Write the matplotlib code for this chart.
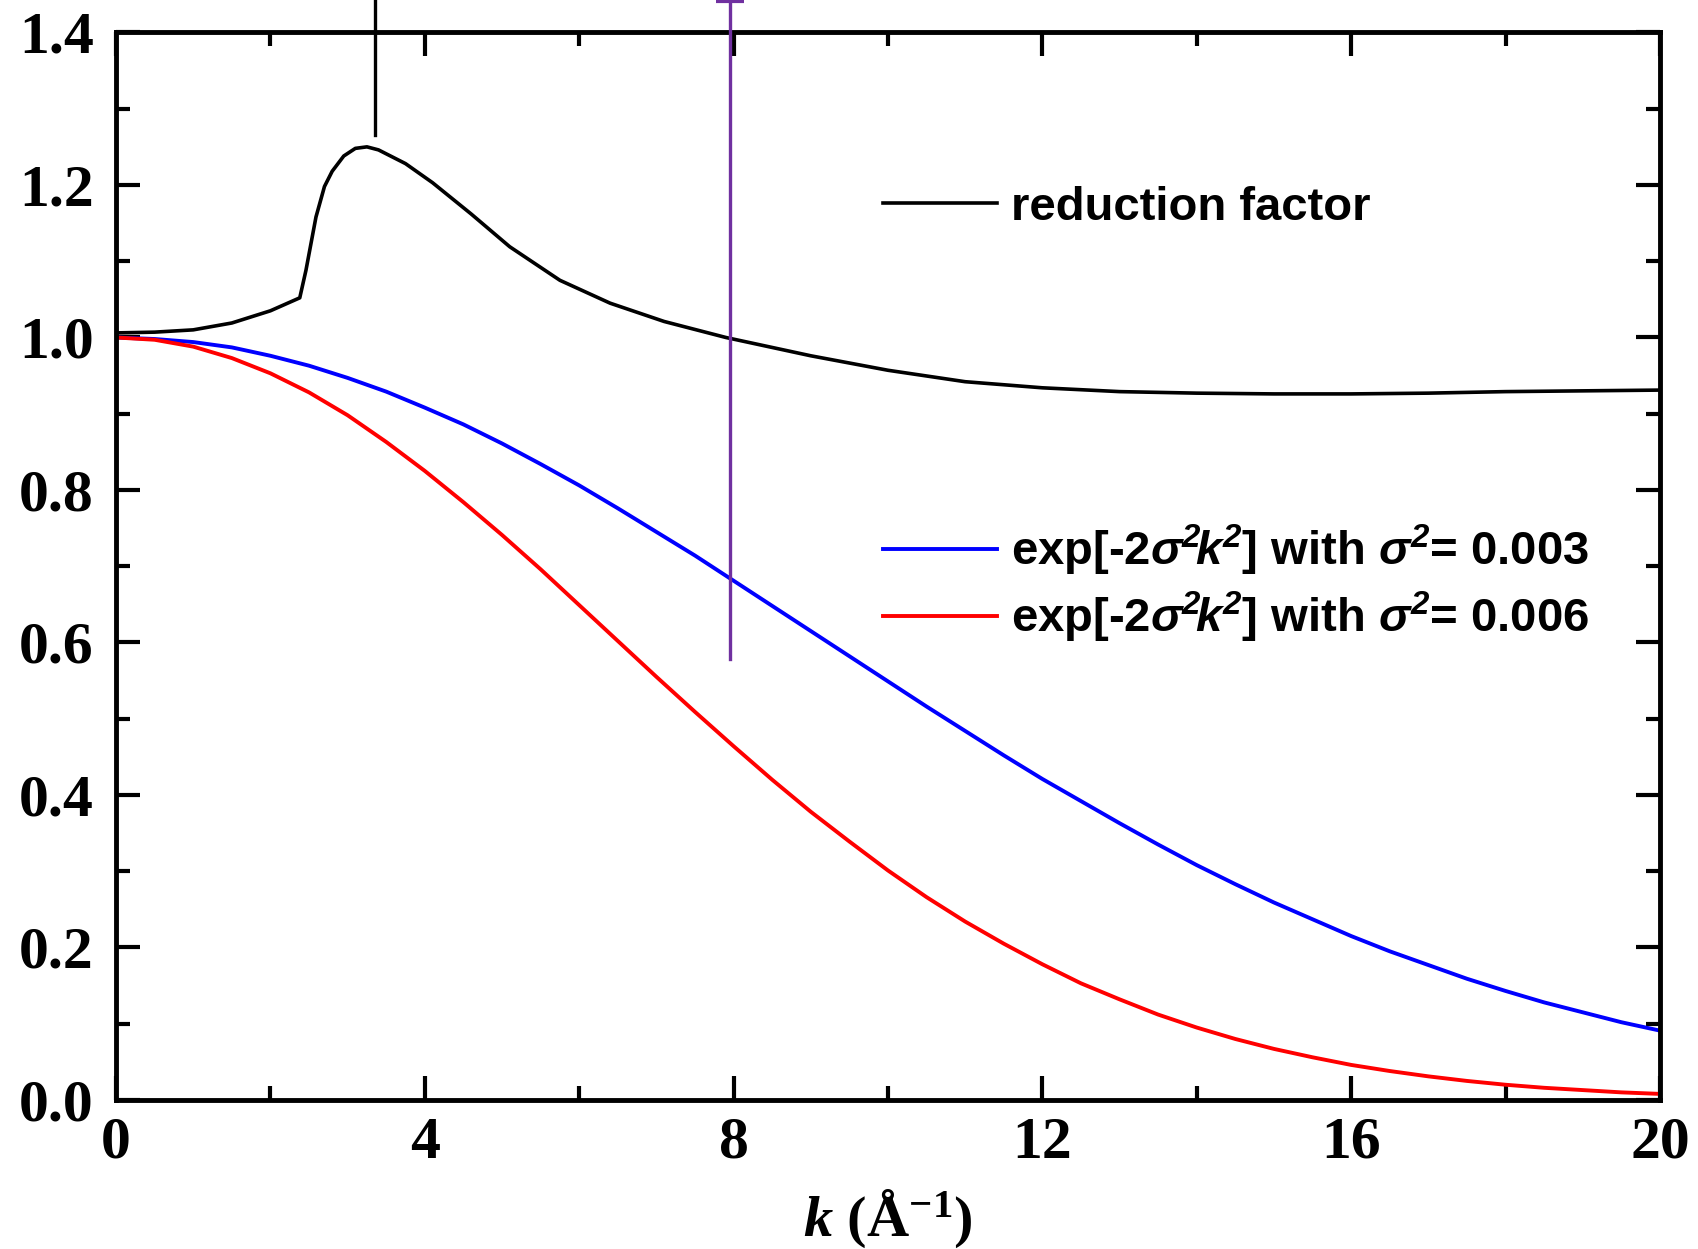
import matplotlib
matplotlib.use("Agg")
import matplotlib.pyplot as plt
import numpy as np

# ---- data ----
k_rf = [0, 0.5, 1.0, 1.5, 2.0, 2.38, 2.46, 2.59, 2.7, 2.8, 2.95, 3.1, 3.25, 3.4,
        3.75, 4.1, 4.6, 5.1, 5.75, 6.4, 7.1, 7.9, 9.0, 10.0, 11.0, 12.0, 13.0,
        14.0, 15.0, 16.0, 17.0, 18.0, 19.0, 20.0]
reduction = [1.006, 1.007, 1.010, 1.019, 1.035, 1.052, 1.088, 1.158, 1.198, 1.218,
             1.238, 1.248, 1.250, 1.246, 1.228, 1.203, 1.162, 1.119, 1.075, 1.045,
             1.021, 1.000, 0.976, 0.957, 0.942, 0.934, 0.929, 0.927, 0.926, 0.926,
             0.927, 0.929, 0.930, 0.931]

k_dw = [0, 0.5, 1, 1.5, 2, 2.5, 3, 3.5, 4, 4.5, 5, 5.5, 6, 6.5, 7, 7.5, 8, 8.5,
        9, 9.5, 10, 10.5, 11, 11.5, 12, 12.5, 13, 13.5, 14, 14.5, 15, 15.5, 16,
        16.5, 17, 17.5, 18, 18.5, 19, 19.5, 20]
dw_003 = [1.000, 0.998, 0.994, 0.987, 0.976, 0.963, 0.947, 0.929, 0.908, 0.886,
          0.861, 0.834, 0.806, 0.776, 0.745, 0.714, 0.681, 0.648, 0.615, 0.582,
          0.549, 0.516, 0.484, 0.452, 0.421, 0.392, 0.363, 0.335, 0.308, 0.283,
          0.259, 0.237, 0.215, 0.195, 0.177, 0.159, 0.143, 0.128, 0.115, 0.102,
          0.091]
dw_006 = [1.000, 0.997, 0.988, 0.973, 0.953, 0.928, 0.898, 0.863, 0.825, 0.784,
          0.741, 0.696, 0.649, 0.602, 0.555, 0.509, 0.464, 0.420, 0.378, 0.339,
          0.301, 0.266, 0.234, 0.205, 0.178, 0.153, 0.132, 0.112, 0.095, 0.080,
          0.067, 0.056, 0.046, 0.038, 0.031, 0.025, 0.020, 0.016, 0.013, 0.010,
          0.008]

# vertical markers (k position, lower end, upper end)
mark_k = [3.35, 7.95]
mark_lo = [1.265, 0.578]
mark_hi = [1.46, 1.441]
mark_colors = ["black", "#7030A0"]

labels = ["reduction factor",
          r"exp[-2$\mathsf{\sigma^2\!k^2}$] with $\mathsf{\sigma^2}$= 0.003",
          r"exp[-2$\mathsf{\sigma^2\!k^2}$] with $\mathsf{\sigma^2}$= 0.006"]

xticks = [0, 4, 8, 12, 16, 20]
yticks = [0.0, 0.2, 0.4, 0.6, 0.8, 1.0, 1.2, 1.4]

# ---- styling ----
plt.rcParams["mathtext.fontset"] = "custom"
plt.rcParams["mathtext.rm"] = "Liberation Serif:bold"
plt.rcParams["mathtext.it"] = "Liberation Serif:bold:italic"
plt.rcParams["mathtext.bf"] = "Liberation Serif:bold"
plt.rcParams["mathtext.sf"] = "Liberation Sans:bold:italic"

fig = plt.figure(figsize=(16.99, 12.49), dpi=100)
ax = fig.add_axes([0.0683, 0.1193, 0.977 - 0.0683, 0.974 - 0.1193])

l1, = ax.plot(k_rf, reduction, color="black", lw=2.6)
l2, = ax.plot(k_dw, dw_003, color="#0000FF", lw=2.8)
l3, = ax.plot(k_dw, dw_006, color="#FF0000", lw=2.8)

for kk, lo, hi, c in zip(mark_k, mark_lo, mark_hi, mark_colors):
    ax.plot([kk, kk], [lo, hi], color=c, lw=2.4, clip_on=False, zorder=5)
ax.plot([mark_k[1]], [mark_hi[1]], marker="_", ms=20, mew=3,
        color=mark_colors[1], clip_on=False, zorder=5)

ax.set_xlim(0, 20)
ax.set_ylim(0, 1.4)
ax.set_xticks(xticks)
ax.set_yticks(yticks)
ax.set_xticks(np.arange(2, 20, 4), minor=True)
ax.set_yticks(np.arange(0.1, 1.4, 0.2), minor=True)
ax.set_xticklabels([str(t) for t in xticks])
ax.set_yticklabels(["%.1f" % t for t in yticks])

for sp in ax.spines.values():
    sp.set_linewidth(3.5)
ax.tick_params(which="both", direction="in", top=True, right=True, width=3)
ax.tick_params(which="major", length=17)
ax.tick_params(which="minor", length=10)
ax.tick_params(axis="x", which="major", pad=12)
ax.tick_params(axis="y", which="major", pad=16)
for lab in ax.get_xticklabels() + ax.get_yticklabels():
    lab.set_fontfamily("Liberation Serif")
    lab.set_fontweight("bold")
    lab.set_fontsize(43)

ax.set_xlabel(r"$k$ (Å$^{-1}$)", fontfamily="Liberation Serif",
              fontweight="bold", fontsize=42, labelpad=12)

legfont = {"family": "Liberation Sans", "weight": "bold", "size": 34}
leg1 = ax.legend([l1], labels[:1], loc="center left", bbox_to_anchor=(0.497, 0.836),
                 frameon=False, prop=legfont, handlelength=2.4, handletextpad=0.3,
                 borderpad=0, borderaxespad=0)
ax.add_artist(leg1)
ax.legend([l2, l3], labels[1:], loc="center left", bbox_to_anchor=(0.497, 0.483),
          frameon=False, prop=legfont, handlelength=2.4, handletextpad=0.3,
          borderpad=0, borderaxespad=0, labelspacing=0.25)

fig.savefig("out.png", dpi=100)
